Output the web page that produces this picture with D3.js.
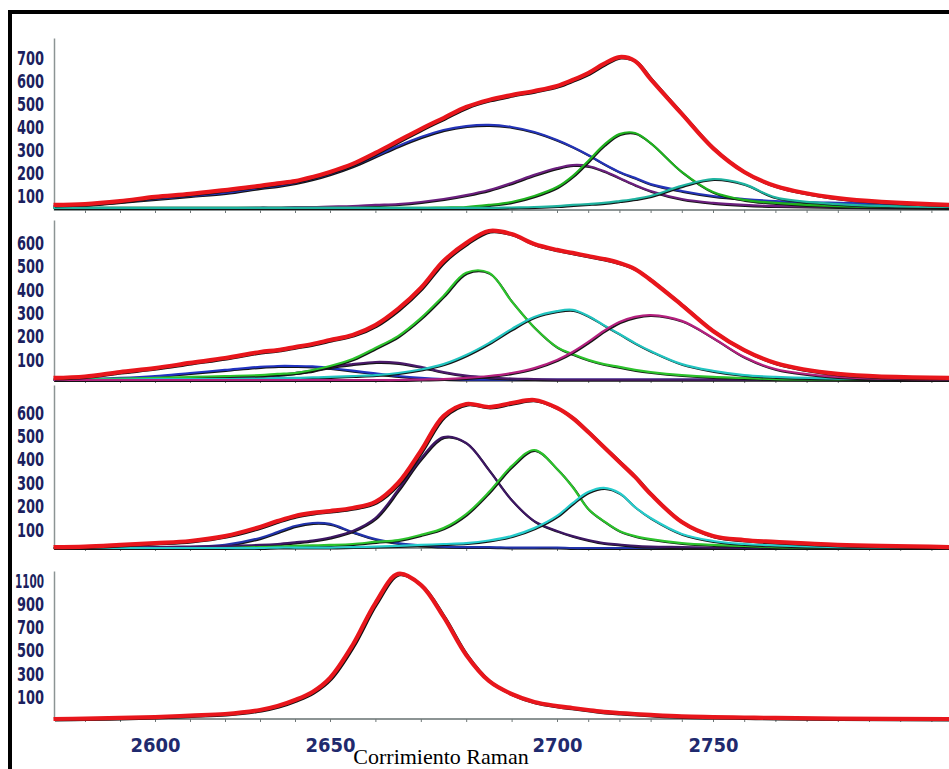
<!DOCTYPE html>
<html>
<head>
<meta charset="utf-8">
<script src="https://cdn.jsdelivr.net/npm/d3@7"></script>
<style>
  body { margin: 0; background: #fff; }
  svg { display: block; }
</style>
</head>
<body>
<div id="chart-container"></div>
<script>
// Raman shift sample positions (cm-1), shared by every curve
const ramanShift = [2571, 2580, 2590, 2600, 2610, 2620, 2630, 2635, 2640, 2645, 2650, 2655, 2660, 2665, 2670, 2675, 2680, 2685, 2690, 2695, 2700, 2705, 2710, 2715, 2720, 2725, 2730, 2740, 2750, 2760, 2770, 2790, 2826];

// x tick labels
const xTicks = [2600, 2650, 2700, 2750];

// y tick labels per panel
const yTicks1 = [100, 200, 300, 400, 500, 600, 700];
const yTicks2 = [100, 200, 300, 400, 500, 600];
const yTicks3 = [100, 200, 300, 400, 500, 600];
const yTicks4 = [100, 300, 500, 700, 900, 1100];

// Panel 1 (top)
const p1Total  = [62, 66, 79, 97, 110, 127, 145, 156, 166, 184, 206, 241, 289, 341, 393, 441, 489, 520, 541, 559, 581, 607, 637, 677, 707, 690, 611, 459, 310, 206, 145, 92, 62];
const p1Blue   = [57, 62, 75, 88, 101, 114, 136, 145, 158, 175, 197, 232, 275, 319, 358, 389, 406, 411, 402, 380, 345, 315, 280, 241, 206, 180, 153, 123, 101, 88, 79, 71, 62];
const p1Purple = [49, 49, 49, 49, 49, 49, 51, 51, 53, 53, 55, 57, 62, 66, 75, 88, 105, 127, 158, 193, 223, 236, 232, 210, 180, 149, 123, 88, 71, 62, 57, 53, 49];
const p1Green  = [49, 49, 49, 49, 49, 49, 49, 49, 49, 49, 49, 49, 49, 49, 49, 51, 53, 62, 75, 101, 140, 188, 254, 323, 371, 376, 332, 206, 118, 84, 71, 57, 53];
const p1Teal   = [49, 49, 49, 49, 49, 49, 49, 49, 49, 49, 49, 49, 49, 49, 49, 49, 49, 49, 51, 53, 57, 62, 66, 71, 79, 88, 101, 145, 175, 153, 95, 66, 53];

// Panel 2
const p2Total   = [24, 30, 49, 66, 88, 109, 135, 143, 156, 169, 186, 208, 250, 319, 409, 524, 601, 653, 640, 597, 572, 559, 546, 533, 516, 490, 443, 336, 225, 143, 88, 41, 24];
const p2Blue    = [17, 19, 24, 32, 45, 58, 71, 75, 75, 73, 66, 55, 43, 32, 24, 19, 17, 17, 17, 17, 17, 17, 17, 17, 17, 17, 17, 17, 17, 17, 17, 17, 15];
const p2Violet  = [15, 15, 17, 19, 21, 26, 32, 36, 45, 55, 71, 83, 92, 88, 71, 49, 34, 26, 21, 19, 17, 17, 17, 17, 17, 17, 17, 17, 17, 17, 17, 17, 15];
const p2Green   = [17, 19, 21, 24, 28, 32, 36, 41, 45, 58, 75, 105, 152, 203, 280, 375, 474, 474, 352, 240, 156, 126, 101, 83, 71, 58, 49, 36, 28, 24, 19, 17, 15];
const p2Teal    = [17, 17, 17, 19, 19, 19, 21, 24, 24, 26, 28, 32, 36, 45, 60, 83, 122, 173, 233, 285, 310, 315, 289, 250, 212, 173, 139, 83, 54, 36, 28, 21, 17];
const p2Magenta = [15, 15, 15, 15, 15, 15, 15, 15, 15, 15, 15, 15, 15, 15, 17, 19, 24, 32, 45, 66, 101, 135, 178, 225, 263, 285, 293, 268, 195, 113, 62, 28, 17];

// Panel 3
const p3Total  = [27, 29, 36, 44, 53, 74, 113, 138, 160, 173, 181, 194, 220, 301, 438, 587, 639, 626, 643, 656, 622, 579, 519, 455, 391, 327, 254, 134, 74, 57, 49, 36, 27];
const p3Blue   = [23, 23, 23, 25, 27, 36, 66, 91, 117, 130, 126, 91, 61, 44, 34, 29, 27, 27, 25, 25, 25, 23, 23, 23, 23, 23, 23, 23, 23, 23, 23, 23, 23];
const p3Violet = [23, 23, 25, 27, 29, 32, 36, 40, 47, 55, 68, 96, 151, 271, 405, 497, 472, 356, 228, 138, 96, 74, 57, 44, 38, 32, 29, 27, 25, 23, 23, 23, 23];
const p3Green  = [23, 23, 23, 23, 23, 23, 27, 29, 32, 34, 36, 40, 49, 57, 79, 108, 168, 262, 373, 442, 361, 284, 190, 138, 96, 74, 61, 44, 36, 32, 27, 25, 23];
const p3Teal   = [23, 23, 23, 23, 23, 23, 23, 25, 25, 25, 25, 27, 29, 32, 36, 40, 44, 55, 74, 108, 160, 215, 262, 280, 258, 198, 151, 83, 53, 40, 34, 27, 23];

// Panel 4 (bottom)
const p4Total = [-90, -86, -81, -73, -60, -47, -12, 22, 74, 144, 265, 550, 913, 1165, 1070, 795, 464, 239, 126, 57, 22, 5, -12, -29, -38, -47, -55, -68, -73, -77, -81, -86, -90];

// Set dimensions
const width = 949;
const height = 769;

// Panel layout (pixel extents and value domains)
const panels = [
  { top: 38,  bottom: 210, domain: [40, 790],   ticks: yTicks1,
    series: [[p1Blue, "#2434b8"], [p1Purple, "#6b1f7e"], [p1Green, "#1fb21f"], [p1Teal, "#1fb3a0"]], total: p1Total },
  { top: 220, bottom: 380, domain: [15, 700],   ticks: yTicks2,
    series: [[p2Blue, "#2233c0"], [p2Violet, "#4a1a6a"], [p2Green, "#2cc22c"], [p2Teal, "#22c4c0"], [p2Magenta, "#b3207e"]], total: p2Total },
  { top: 385, bottom: 548, domain: [23, 720],   ticks: yTicks3,
    series: [[p3Blue, "#2233aa"], [p3Violet, "#3d1763"], [p3Green, "#2cc22c"], [p3Teal, "#26cccc"]], total: p3Total },
  { top: 571, bottom: 719, domain: [-90, 1190], ticks: yTicks4,
    series: [], total: p4Total }
];

// Set up the x scale
const x = d3.scaleLinear()
  .domain(xTicks)
  .range([155, 330, 557, 713]);

// Create the SVG element
const svg = d3.select("#chart-container")
  .append("svg")
  .attr("width", width)
  .attr("height", height);

// Black frame (left and top edges show)
svg.append("rect")
  .attr("x", 10)
  .attr("y", 12)
  .attr("width", 1000)
  .attr("height", 1000)
  .attr("fill", "none")
  .attr("stroke", "#000")
  .attr("stroke-width", 4);

panels.forEach((p, i) => {
  const y = d3.scaleLinear()
    .domain(p.domain)
    .range([p.bottom, p.top]);

  const line = d3.line()
    .x((d, j) => x(ramanShift[j]))
    .y(d => y(d))
    .curve(d3.curveCatmullRom.alpha(0.5));

  const g = svg.append("g");

  // Baseline
  g.append("line")
    .attr("x1", 54)
    .attr("x2", width)
    .attr("y1", p.bottom)
    .attr("y2", p.bottom)
    .attr("stroke", "#8c9494")
    .attr("stroke-width", 2);

  // Small ticks along the baseline
  g.append("g")
    .attr("transform", `translate(0,${p.bottom})`)
    .call(d3.axisBottom(x)
      .tickValues(d3.range(2580, 2830, 10))
      .tickSize(3)
      .tickFormat(""))
    .call(a => a.select(".domain").remove())
    .selectAll(".tick line")
    .attr("stroke", "#6f7777");

  // Add the y-axis
  g.append("g")
    .attr("transform", "translate(54,0)")
    .call(d3.axisLeft(y)
      .tickValues(p.ticks)
      .tickSize(0)
      .tickPadding(10)
      .tickFormat(d3.format("d")))
    .call(a => a.select(".domain").attr("stroke", "#8c9494").attr("stroke-width", 1.5))
    .selectAll(".tick text")
    .style("font-family", "'DejaVu Sans Condensed', 'DejaVu Sans', sans-serif")
    .style("font-weight", "bold")
    .style("font-size", "19px")
    .attr("textLength", d => String(d).length > 3 ? 29 : 27)
    .attr("lengthAdjust", "spacingAndGlyphs")
    .attr("fill", "#1b1f5e");

  // Component peaks: dark fringe then colour
  p.series.forEach(([vals, color]) => {
    g.append("path")
      .datum(vals)
      .attr("fill", "none")
      .attr("stroke", "#141414")
      .attr("stroke-width", 2)
      .attr("transform", "translate(1,1)")
      .attr("d", line);
    g.append("path")
      .datum(vals)
      .attr("fill", "none")
      .attr("stroke", color)
      .attr("stroke-width", 2.2)
      .attr("d", line);
  });

  // Measured spectrum (black) and fitted sum (red)
  g.append("path")
    .datum(p.total)
    .attr("fill", "none")
    .attr("stroke", "#111")
    .attr("stroke-width", 3)
    .attr("transform", "translate(1.5,1)")
    .attr("d", line);
  g.append("path")
    .datum(p.total)
    .attr("fill", "none")
    .attr("stroke", "#e8161c")
    .attr("stroke-width", 4.2)
    .attr("d", line);

  // x tick labels on the bottom panel only
  if (i === panels.length - 1) {
    g.append("g")
      .attr("transform", `translate(0,${p.bottom})`)
      .call(d3.axisBottom(x)
        .tickValues(xTicks)
        .tickSize(0)
        .tickPadding(19)
        .tickFormat(d3.format("d")))
      .call(a => a.select(".domain").remove())
      .selectAll(".tick text")
      .style("font-family", "'DejaVu Sans Condensed', 'DejaVu Sans', sans-serif")
      .style("font-weight", "bold")
      .style("font-size", "20px")
      .attr("fill", "#1f2a6e");
  }
});

// Add the x-axis title
svg.append("text")
  .attr("x", 441)
  .attr("y", 764)
  .attr("text-anchor", "middle")
  .style("font-family", "'Liberation Serif', 'Times New Roman', serif")
  .style("font-size", "22px")
  .attr("fill", "#000")
  .text("Corrimiento Raman");
</script>
</body>
</html>
